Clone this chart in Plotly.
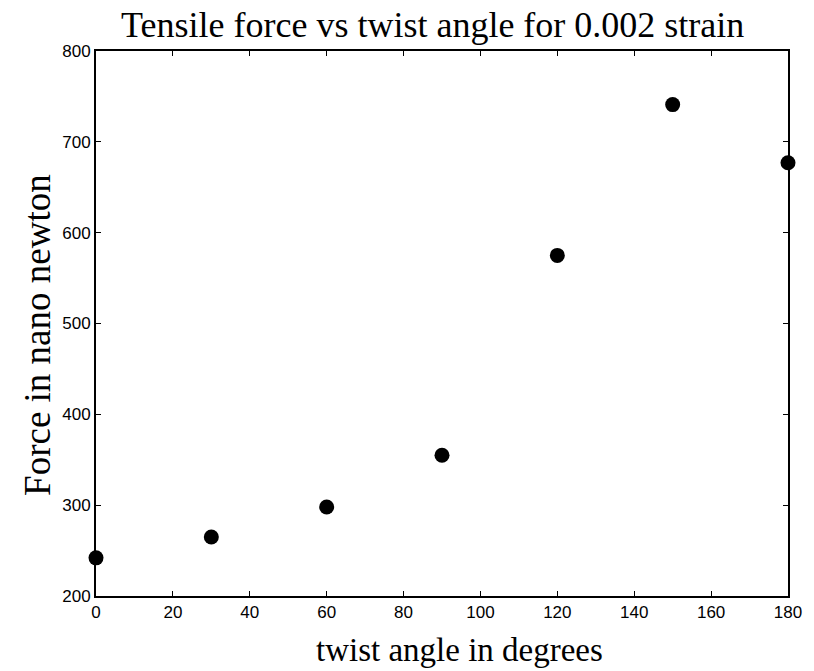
import plotly.graph_objects as go

twist_angle = [0, 30, 60, 90, 120, 150, 180]
force = [242, 265, 298, 355, 575, 741, 677]
x_ticks = [0, 20, 40, 60, 80, 100, 120, 140, 160, 180]
y_ticks = [200, 300, 400, 500, 600, 700, 800]

title_text = "Tensile force vs twist angle for 0.002 strain"
x_title = "twist angle in degrees"
y_title = "Force in nano newton"

serif = "Liberation Serif, Times New Roman, serif"

fig = go.Figure()
fig.add_trace(go.Scatter(
    x=twist_angle, y=force, mode="markers",
    marker=dict(size=15, color="black"),
    cliponaxis=False, showlegend=False))

axis_common = dict(
    showgrid=False, zeroline=False, showline=True, linecolor="black", linewidth=2,
    mirror="ticks", ticks="inside", ticklen=5, tickwidth=1, tickcolor="black",
    tickfont=dict(family="Liberation Sans, Arial", size=17, color="black"),
)
fig.update_xaxes(range=[0, 180], tickvals=x_ticks, **axis_common)
fig.update_yaxes(range=[200, 800], tickvals=y_ticks, **axis_common)

fig.update_layout(
    width=814, height=671,
    margin=dict(l=96, r=24, t=51, b=75),
    paper_bgcolor="white", plot_bgcolor="white",
    annotations=[
        dict(text=title_text, xref="paper", yref="paper", x=0.486, y=1.0,
             xanchor="center", yanchor="bottom", yshift=4, showarrow=False,
             font=dict(family=serif, size=36, color="black")),
        dict(text=x_title, xref="paper", yref="paper", x=0.525, y=0,
             xanchor="center", yanchor="top", yshift=-34, showarrow=False,
             font=dict(family=serif, size=33, color="black")),
        dict(text=y_title, xref="paper", yref="paper", x=0, y=0.48,
             xanchor="right", yanchor="middle", xshift=-36, textangle=-90,
             showarrow=False,
             font=dict(family=serif, size=37, color="black")),
    ],
)
fig.write_html("out.html")
